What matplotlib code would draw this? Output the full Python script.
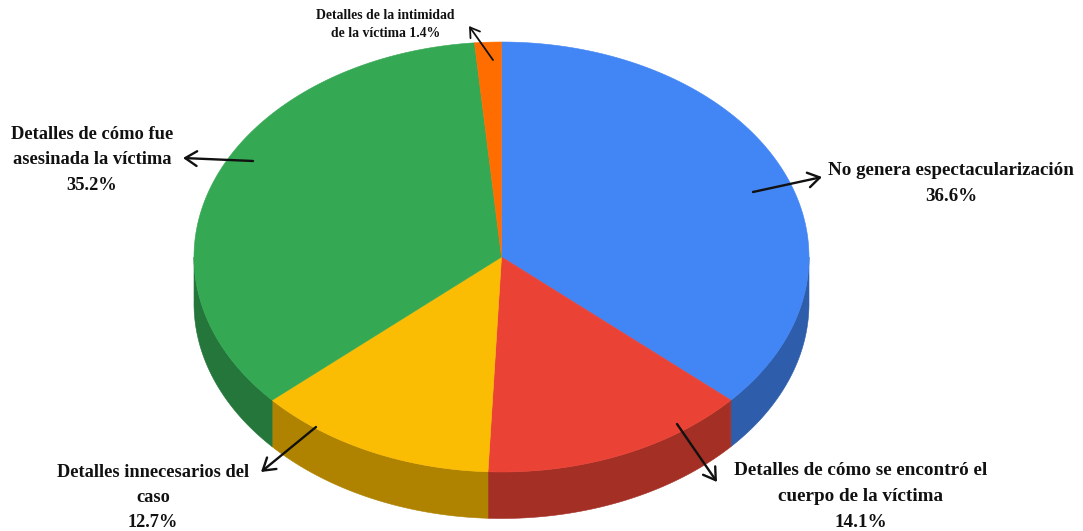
import numpy as np
import matplotlib
matplotlib.use("Agg")
import matplotlib.pyplot as plt
from matplotlib.patches import Polygon

categories = ["No genera espectacularización",
              "Detalles de cómo se encontró el\ncuerpo de la víctima",
              "Detalles innecesarios del\ncaso",
              "Detalles de cómo fue\nasesinada la víctima",
              "Detalles de la intimidad\nde la víctima"]
values = [36.6, 14.1, 12.7, 35.2, 1.4]
top_colors = ["#4285F4", "#EA4335", "#FBBC04", "#34A853", "#FF6D01"]
side_colors = ["#2E5DAB", "#A32F25", "#AF8300", "#24763A", "#B24C00"]

CX, CY, RX, RY, DEPTH = 501.5, 257, 307.5, 215, 46.5

plt.rcParams["font.family"] = ["Liberation Serif", "DejaVu Serif"]
fig = plt.figure(figsize=(10.83, 5.31), dpi=100)
ax = fig.add_axes([0, 0, 1, 1])
ax.set_xlim(0, 1083)
ax.set_ylim(531, 0)
ax.axis("off")


def rim(a0, a1, dy=0.0, n=200):
    t = np.radians(np.linspace(a0, a1, n))
    return np.column_stack([CX + RX * np.sin(t), CY + dy - RY * np.cos(t)])


total = sum(values)
edges = np.cumsum([0] + values) / total * 360

# side walls: only the front half of the rim (90-270 degrees clockwise from top)
for a0, a1, c in zip(edges[:-1], edges[1:], side_colors):
    lo, hi = max(a0, 90), min(a1, 270)
    if lo < hi:
        pts = np.vstack([rim(lo, hi), rim(hi, lo, DEPTH)])
        ax.add_patch(Polygon(pts, closed=True, fc=c, ec=c, lw=0.4, zorder=2))

# top face
for a0, a1, c in zip(edges[:-1], edges[1:], top_colors):
    pts = np.vstack([[[CX, CY]], rim(a0, a1)])
    ax.add_patch(Polygon(pts, closed=True, fc=c, ec=c, lw=0.4, zorder=3))

# hand-drawn callout arrows
arrows = [((753, 192), (822, 177), 1.7, 14),
          ((677, 424), (717, 482), 1.7, 14),
          ((316, 427), (261, 472), 1.7, 14),
          ((253, 161), (183, 158), 1.7, 14),
          ((493, 60), (469, 26), 1.3, 11)]
for start, end, lw, ms in arrows:
    ax.annotate("", xy=end, xytext=start, zorder=5,
                arrowprops=dict(arrowstyle="->,head_length=0.6,head_width=0.38",
                                lw=lw, color="#111111", mutation_scale=ms,
                                shrinkA=0, shrinkB=0))

txt = dict(ha="center", va="center", fontweight="bold", color="#111111", zorder=6)
pct = [f"{v}%" for v in values]
ax.text(951, 183.5, f"{categories[0]}\n{pct[0]}", fontsize=13.7, linespacing=1.68, **txt)
ax.text(861, 496.5, f"{categories[1]}\n{pct[1]}", fontsize=13.8, linespacing=1.72, **txt)
ax.text(153, 497.5, f"{categories[2]}\n{pct[2]}", fontsize=13.2, linespacing=1.65, **txt)
ax.text(92, 160, f"{categories[3]}\n{pct[3]}", fontsize=13.3, linespacing=1.68, **txt)
ax.text(385.5, 24.5, f"Detalles de la intimidad\nde la víctima {pct[4]}", fontsize=9.9, linespacing=1.5, **txt)

fig.savefig("out.png", dpi=100, facecolor="white")
